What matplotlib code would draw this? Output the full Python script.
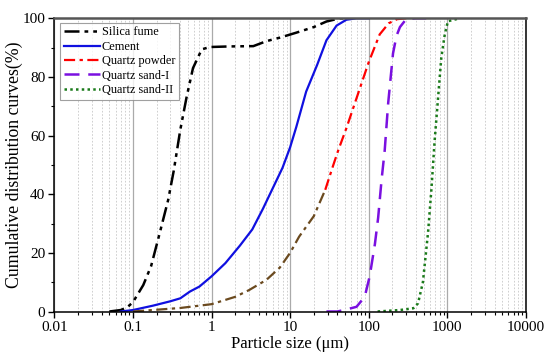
import matplotlib.pyplot as plt
from matplotlib.ticker import LogLocator, FixedLocator, NullFormatter

plt.rcParams["font.family"] = ["Liberation Serif", "DejaVu Serif"]

# particle size (um) / cumulative passing (%)
silica_x = [0.05, 0.07, 0.085, 0.1, 0.135, 0.17, 0.22, 0.28, 0.33, 0.4, 0.48,
            0.58, 0.75, 0.95, 1.7, 3.4, 5, 7.4, 12, 20, 29, 43, 60]
silica_y = [0, 0.5, 1.5, 3.2, 9, 15.5, 27, 38, 48, 62, 73,
            83, 89.4, 90.2, 90.4, 90.5, 92.2, 93.4, 95.1, 97, 98.9, 100, 100]

cement_x = [0.07, 0.1, 0.18, 0.3, 0.4, 0.53, 0.7, 1.0, 1.5, 2.3, 3.3, 4.5,
            6, 8, 10, 12, 16, 22, 29, 39, 52, 70, 100]
cement_y = [0, 0.5, 2, 3.5, 4.5, 6.8, 8.5, 12, 16.5, 22.5, 28, 35,
            42, 49, 56, 63, 75, 84, 92.5, 97.5, 99.5, 100, 100]

qpowder_x = [0.1, 0.4, 1.0, 2.0, 3.0, 5.0, 7.4, 10, 13, 20, 28, 35, 41,
             52, 77, 100, 138, 180, 230, 300]
qpowder_y = [0, 1.2, 2.5, 5, 7.3, 10.8, 15, 20, 25.5, 32.5, 41.5, 49.5, 55,
             62.5, 76, 85, 94.5, 98.3, 99.7, 100]

sand1_x = [29, 40, 52, 70, 89, 103, 120, 132, 146, 160, 177, 204, 226,
           250, 300, 400, 540]
sand1_y = [0, 0, 0.7, 1.6, 5, 12, 23, 32, 45, 55, 71, 88, 94,
           97, 99.7, 100, 100]

sand2_x = [130, 250, 370, 425, 490, 570, 630, 690, 765, 840, 930, 1020, 1450]
sand2_y = [0, 0.5, 1.1, 2.8, 10, 27, 42, 58, 73, 86.5, 94.5, 99, 100]

fig = plt.figure(figsize=(5.5, 3.62), dpi=100)
ax = fig.add_axes([0.099, 0.1395, 0.857, 0.81])

ax.plot(silica_x, silica_y, color="black", lw=1.8,
        dashes=(6, 2, 1.5, 2, 1.5, 2), label="Silica fume")
ax.plot(cement_x, cement_y, color="#1010E0", lw=1.6, label="Cement")
# lower part of the quartz powder curve looks brown in the original
split = 11
ax.plot(qpowder_x[:split], qpowder_y[:split], color="#6B4A1F", lw=1.6,
        dashes=(5, 2, 1.5, 2))
ax.plot(qpowder_x[split - 1:], qpowder_y[split - 1:], color="#FF0000", lw=1.6,
        dashes=(5, 2, 1.5, 2), label="Quartz powder")
ax.plot(sand1_x, sand1_y, color="#7A10E0", lw=1.8, dashes=(6, 3.5),
        label="Quartz sand-I")
ax.plot(sand2_x, sand2_y, color="#1A7A1A", lw=1.8, linestyle=(0, (1, 1.3)),
        label="Quartz sand-II")

ax.set_xscale("log")
ax.set_xlim(0.01, 10000)
ax.set_ylim(0, 100)

ax.xaxis.set_minor_locator(LogLocator(base=10, subs=range(2, 10), numticks=10))
ax.xaxis.set_minor_formatter(NullFormatter())
ax.set_xticks([0.01, 0.1, 1, 10, 100, 1000, 10000])
ax.set_xticklabels(["0.01", "0.1", "1", "10", "100", "1000", "10000"])
ax.set_yticks([0, 20, 40, 60, 80, 100])
ax.yaxis.set_minor_locator(FixedLocator([10, 30, 50, 70, 90]))

ax.grid(True, which="major", axis="x", color="#AAAAAA", lw=0.9)
ax.grid(True, which="minor", axis="x", color="#C8C8C8", lw=0.6, linestyle=(0, (2, 2)))
ax.set_axisbelow(True)

ax.tick_params(axis="both", which="major", direction="out", length=4.5, width=1,
               labelsize=11, top=False, right=False, pad=2)
ax.tick_params(axis="both", which="minor", direction="out", length=2.5, width=0.8,
               top=False, right=False)

for side in ["left", "bottom", "right"]:
    ax.spines[side].set_linewidth(1.1)
    ax.spines[side].set_color("black")
ax.spines["top"].set_linewidth(1.8)
ax.spines["top"].set_color("#555555")

ax.set_xlabel("Particle size (\u03bcm)", fontsize=12, labelpad=2)
ax.set_ylabel("Cumulative distribution curves(%)", fontsize=12.8, labelpad=0)

leg = ax.legend(loc="upper left", fontsize=8.8, handlelength=3, handletextpad=0.1,
                borderpad=0.3, labelspacing=0.2, fancybox=False,
                bbox_to_anchor=(0.012, 0.985), borderaxespad=0)
leg.get_frame().set_edgecolor("#888888")
leg.get_frame().set_linewidth(0.8)

fig.savefig("out.png", dpi=100)
